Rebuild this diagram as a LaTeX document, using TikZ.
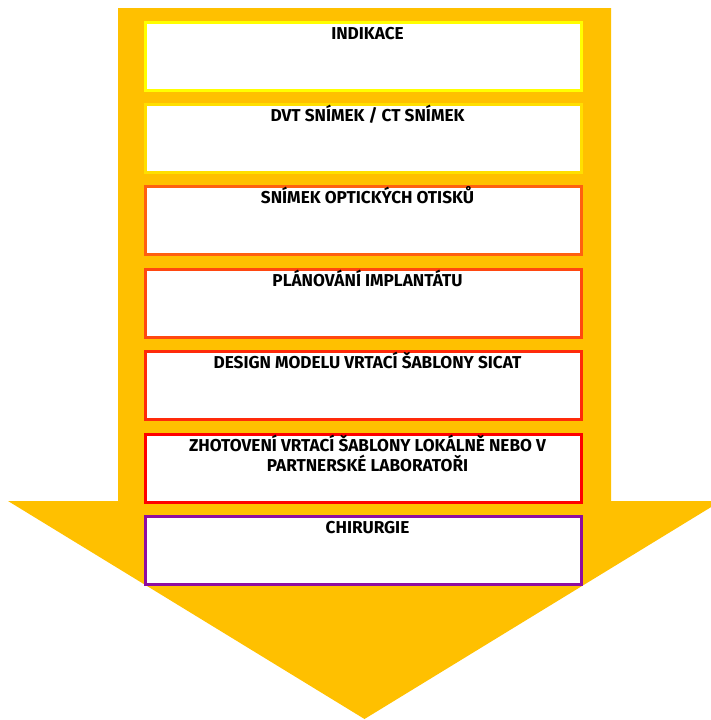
\documentclass[tikz,border=0pt]{standalone}
\usepackage{fontspec}
\setmainfont{Fira Sans}
\definecolor{arrowgold}{HTML}{FFC000}
\definecolor{c1}{HTML}{FFFF00}
\definecolor{c2}{HTML}{FFDF00}
\definecolor{c3}{HTML}{FF6010}
\definecolor{c4}{HTML}{FF4810}
\definecolor{c5}{HTML}{FF2A0A}
\definecolor{c6}{HTML}{FF0000}
\definecolor{c7}{HTML}{8E0CA0}
\begin{document}
\begin{tikzpicture}[x=1pt,y=-1pt,
  stepbox/.style={draw=#1,line width=3pt,fill=white,rectangle,inner sep=0pt,
    minimum width=436pt,minimum height=68.5pt,anchor=north},
  steptext/.style={font=\bfseries\fontsize{17.2}{19.5}\selectfont,align=center,anchor=base,inner sep=0pt}]
\useasboundingbox (0,0) rectangle (711,720);
\fill[arrowgold] (118,8) -- (611,8) -- (611,501) -- (721,501) -- (364.5,719) -- (8,501) -- (118,501) -- cycle;
\foreach \i/\t/\c in {1/19/c1,2/101/c2,3/183/c3,4/266/c4,5/348/c5,6/431/c6,7/513/c7}{
  \node[stepbox=\c] (b\i) at (363.5,\t+1.5) {};
}
\node[steptext] (t1) at ([xshift=4pt,yshift=-19pt]b1.north) {INDIKACE};
\node[steptext] (t2) at ([xshift=4pt,yshift=-19pt]b2.north) {DVT SNÍMEK / CT SNÍMEK};
\node[steptext] (t3) at ([xshift=4pt,yshift=-19pt]b3.north) {SNÍMEK OPTICKÝCH OTISKŮ};
\node[steptext] (t4) at ([xshift=4pt,yshift=-19pt]b4.north) {PLÁNOVÁNÍ IMPLANTÁTU};
\node[steptext] (t5) at ([xshift=4pt,yshift=-19pt]b5.north) {DESIGN MODELU VRTACÍ ŠABLONY SICAT};
\node[steptext] (t6) at ([xshift=4pt,yshift=-38.5pt]b6.north) {ZHOTOVENÍ VRTACÍ ŠABLONY LOKÁLNĚ NEBO V\\PARTNERSKÉ LABORATOŘI};
\node[steptext] (t7) at ([xshift=4pt,yshift=-19pt]b7.north) {CHIRURGIE};
\end{tikzpicture}
\end{document}
